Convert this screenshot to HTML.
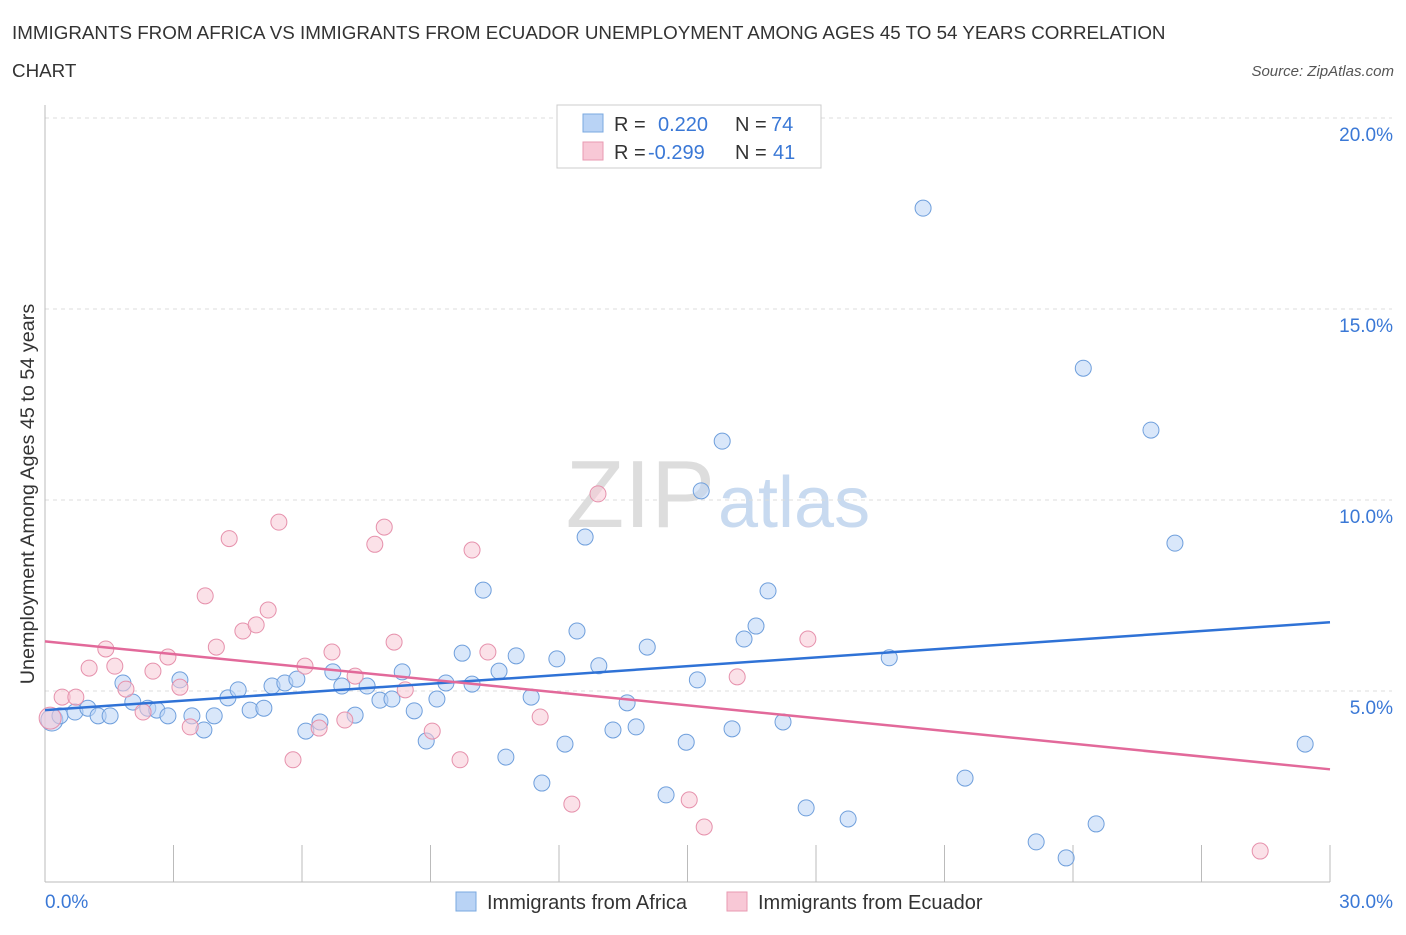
<!DOCTYPE html>
<html><head><meta charset="utf-8"><style>
body{margin:0;background:#fff;font-family:"Liberation Sans",sans-serif;}
svg text{font-family:"Liberation Sans",sans-serif;}
</style></head><body>
<svg id="c" width="1406" height="930" viewBox="0 0 1406 930">
<text x="12" y="39" font-size="18.8" fill="#333">IMMIGRANTS FROM AFRICA VS IMMIGRANTS FROM ECUADOR UNEMPLOYMENT AMONG AGES 45 TO 54 YEARS CORRELATION</text>
<text x="12" y="77" font-size="18.8" fill="#333">CHART</text>
<text x="1394" y="76" font-size="15" fill="#555" font-style="italic" text-anchor="end">Source: ZipAtlas.com</text>
<text x="715" y="527" font-size="96" fill="#ddd" text-anchor="end" font-family="Liberation Serif">ZIP</text>
<text x="718" y="527" font-size="72" fill="#c8daf0">atlas</text>
<text transform="translate(34,494) rotate(-90)" font-size="19.8" fill="#333" text-anchor="middle">Unemployment Among Ages 45 to 54 years</text>
<g id="grid"></g><g id="pts"></g><g id="lines"></g>
<g>
<rect x="557" y="105" width="264" height="63" fill="#fff" stroke="#ccc"/>
<rect x="583" y="114" width="20" height="18" fill="#b9d3f5" stroke="#7aa8e0"/>
<text x="614" y="131" font-size="20" fill="#333">R = </text><text x="658" y="131" font-size="20" fill="#3a78d6">0.220</text>
<text x="735" y="131" font-size="20" fill="#333">N = </text><text x="771" y="131" font-size="20" fill="#3a78d6">74</text>
<rect x="583" y="142" width="20" height="18" fill="#f8c8d6" stroke="#e89ab2"/>
<text x="614" y="159" font-size="20" fill="#333">R = </text><text x="648" y="159" font-size="20" fill="#3a78d6">-0.299</text>
<text x="735" y="159" font-size="20" fill="#333">N = </text><text x="773" y="159" font-size="20" fill="#3a78d6">41</text>
</g>
<g>
<rect x="456" y="892" width="20" height="19" fill="#b9d3f5" stroke="#7aa8e0"/>
<text x="487" y="909" font-size="20" fill="#333">Immigrants from Africa</text>
<rect x="727" y="892" width="20" height="19" fill="#f8c8d6" stroke="#e89ab2"/>
<text x="758" y="909" font-size="20" fill="#333">Immigrants from Ecuador</text>
</g>
</svg>
<script>
const xTicks=[0,30];
const yTicks=[5,10,15,20];
const africaX=[0.16,0.35,0.7,1.0,1.24,1.52,1.82,2.05,2.4,2.61,2.87,3.15,3.43,3.71,3.95,4.27,4.51,4.79,5.11,5.3,5.6,5.88,6.09,6.42,6.72,6.93,7.24,7.52,7.82,8.1,8.34,8.62,8.9,9.15,9.36,9.74,9.97,10.23,10.6,10.76,11.0,11.35,11.6,11.95,12.14,12.42,12.61,12.93,13.26,13.59,13.8,14.06,14.5,14.97,15.23,15.32,15.81,16.04,16.32,16.6,16.88,17.23,17.77,18.75,19.71,20.5,21.48,23.14,23.84,24.24,24.54,25.82,26.38,29.42];
const africaY=[4.24,4.35,4.45,4.55,4.35,4.35,5.21,4.71,4.55,4.5,4.35,5.29,4.35,3.98,4.35,4.82,5.03,4.5,4.55,5.13,5.21,5.31,3.95,4.19,5.5,5.13,4.37,5.13,4.76,4.79,5.5,4.48,3.69,4.79,5.21,5.99,5.18,7.64,5.52,3.27,5.92,4.84,2.59,5.84,3.61,6.57,9.03,5.66,3.98,4.69,4.06,6.15,2.28,3.66,5.29,10.24,11.54,4.01,6.36,6.7,7.62,4.19,1.94,1.65,5.87,17.64,2.72,1.05,0.63,13.45,1.52,11.83,8.87,3.61];
const ecuadorX=[0.12,0.4,0.72,1.03,1.42,1.63,1.89,2.29,2.52,2.87,3.15,3.39,3.74,4.0,4.3,4.62,4.93,5.21,5.46,5.79,6.07,6.4,6.7,7.0,7.24,7.7,7.92,8.15,8.41,9.04,9.69,9.97,10.34,11.56,12.3,12.91,15.04,15.39,16.16,17.81,28.37];
const ecuadorY=[4.29,4.84,4.84,5.6,6.1,5.65,5.05,4.45,5.52,5.89,5.1,4.06,7.49,6.15,8.99,6.57,6.73,7.12,9.42,3.2,5.65,4.03,6.02,4.24,5.39,8.84,9.29,6.28,5.03,3.95,3.2,8.69,6.02,4.32,2.04,10.16,2.15,1.44,5.37,6.36,0.81];
const africaTrend=[4.5,6.8];
const ecuadorTrend=[6.3,2.95];
const NS='http://www.w3.org/2000/svg';
const X=v=>45+v*(1285/30), Y=v=>882-v*38.2;
function mk(t,a,p){const e=document.createElementNS(NS,t);for(const k in a)e.setAttribute(k,a[k]);p.appendChild(e);return e;}
const grid=document.getElementById('grid');
yTicks.forEach(v=>{const l=mk('line',{x1:45,x2:1392,y1:Y(v),y2:Y(v),stroke:'#ddd','stroke-dasharray':'4,4'},grid);


const t=mk('text',{x:1393,y:Y(v)+23,'font-size':19,fill:'#3a78d6','text-anchor':'end'},grid);t.textContent=v.toFixed(1)+'%';

});
const ax=mk('line',{x1:45,x2:1330,y1:882,y2:882,stroke:'#bbb'},grid);


const ay=mk('line',{x1:45,x2:45,y1:105,y2:882,stroke:'#bbb'},grid);


for(let i=1;i<=10;i++){const l=mk('line',{x1:X(i*3),x2:X(i*3),y1:845,y2:882,stroke:'#bbb'},grid);

}
xTicks.forEach(v=>{const t=mk('text',{x:v==0?45:1393,y:908,'font-size':19,fill:'#3a78d6','text-anchor':v==0?'start':'end'},grid);t.textContent=v.toFixed(1)+'%';

});
const pts=document.getElementById('pts');
function series(xs,ys,fill,stroke,name){xs.forEach((x,i)=>{const c=mk('circle',{cx:X(x),cy:Y(ys[i]),r:i==0?11:8,fill:fill,'fill-opacity':0.55,stroke:stroke,'stroke-width':1},pts);

});}
series(africaX,africaY,'#b9d3f5','#6f9fdc','africa-point');
series(ecuadorX,ecuadorY,'#f8c8d6','#e691ac','ecuador-point');
const lines=document.getElementById('lines');
const l1=mk('line',{x1:X(0),x2:X(30),y1:Y(africaTrend[0]),y2:Y(africaTrend[1]),stroke:'#2f72d6','stroke-width':2.5},lines);


const l2=mk('line',{x1:X(0),x2:X(30),y1:Y(ecuadorTrend[0]),y2:Y(ecuadorTrend[1]),stroke:'#e2699a','stroke-width':2.5},lines);


</script>
</body></html>
